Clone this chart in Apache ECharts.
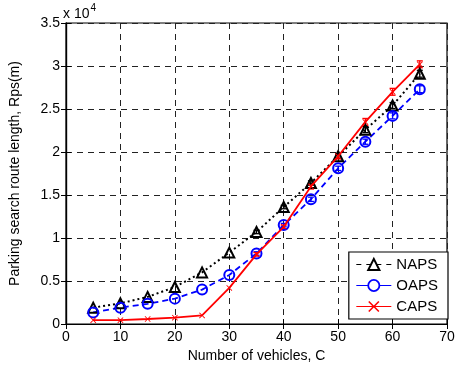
<!DOCTYPE html>
<html>
<head>
<meta charset="utf-8">
<script src="https://cdn.jsdelivr.net/npm/echarts@6/dist/echarts.min.js"></script>
<style>html,body{margin:0;padding:0;background:#fff}#c{width:459px;height:372px}</style>
</head>
<body>
<div id="c"></div>
<script>
var xVals = [5, 10, 15, 20, 25, 30, 35, 40, 45, 50, 55, 60, 65];
var napsVals = [1900, 2400, 3150, 4300, 6000, 8300, 10700, 13600, 16400, 19500, 22600, 25400, 29100];
var oapsVals = [1350, 1900, 2350, 2950, 4000, 5700, 8200, 11500, 14500, 18100, 21200, 24200, 27300];
var capsVals = [450, 450, 580, 730, 1000, 4200, 8100, 11300, 16000, 19500, 23500, 27000, 30200];
var napsErr = [0, 0, 0, 0, 0, 0, 200, 200, 250, 250, 350, 350, 400];
var oapsErr = [0, 0, 0, 0, 0, 0, 200, 200, 250, 250, 300, 350, 400];
var capsErr = [0, 0, 0, 0, 0, 0, 200, 200, 300, 300, 400, 400, 400];
var yTicks = ['0', '0.5', '1', '1.5', '2', '2.5', '3', '3.5'];

var FONT = 'Liberation Sans';
function pairs(v) { return xVals.map(function (x, i) { return [x, v[i]]; }); }
function errData(v, e) { return xVals.map(function (x, i) { return [x, v[i] - e[i], v[i] + e[i]]; }); }
function errSeries(name, v, e, color) {
  return {
    type: 'custom', name: name + 'err', silent: true, z: 4,
    data: errData(v, e),
    renderItem: function (params, api) {
      var lo = api.coord([api.value(0), api.value(1)]);
      var hi = api.coord([api.value(0), api.value(2)]);
      if (Math.abs(lo[1] - hi[1]) < 1) return null;
      var w = 3;
      var st = { stroke: color, lineWidth: 1.3 };
      return { type: 'group', children: [
        { type: 'line', shape: { x1: lo[0], y1: lo[1], x2: hi[0], y2: hi[1] }, style: st },
        { type: 'line', shape: { x1: lo[0] - w, y1: lo[1], x2: lo[0] + w, y2: lo[1] }, style: st },
        { type: 'line', shape: { x1: hi[0] - w, y1: hi[1], x2: hi[0] + w, y2: hi[1] }, style: st }
      ]};
    }
  };
}
var xMark = 'path://M0,1L1,0L5,4L9,0L10,1L6,5L10,9L9,10L5,6L1,10L0,9L4,5Z';
var gridLine = { show: true, lineStyle: { color: '#222', type: [6, 5], width: 1 } };
var chart = echarts.init(document.getElementById('c'), null, { renderer: 'canvas' });
chart.setOption({
  animation: false,
  backgroundColor: '#fff',
  textStyle: { fontFamily: FONT },
  grid: { left: 64, right: 12, top: 23, bottom: 48, show: true, borderColor: '#000', borderWidth: 1.2 },
  xAxis: [{
    type: 'value', min: 0, max: 70, interval: 10,
    name: 'Number of vehicles, C', nameLocation: 'middle', nameGap: 23,
    nameTextStyle: { fontFamily: FONT, fontSize: 14, color: '#000' },
    axisLine: { show: true, onZero: false, lineStyle: { color: '#000', width: 1.2 } },
    axisTick: { show: true, inside: true, length: 5, lineStyle: { color: '#000' } },
    axisLabel: { fontFamily: FONT, fontSize: 14, color: '#000', margin: 6 },
    splitLine: gridLine
  }, {
    type: 'value', min: 0, max: 70, interval: 10, position: 'top',
    axisLine: { show: true, lineStyle: { color: '#000', width: 1.2 } },
    axisTick: { show: true, inside: true, length: 5, lineStyle: { color: '#000' } },
    axisLabel: { show: false }, splitLine: { show: false }
  }],
  yAxis: [{
    type: 'value', min: 0, max: 35000, interval: 5000,
    name: 'Parking search route length, Rps(m)', nameLocation: 'middle', nameGap: 44,
    nameTextStyle: { fontFamily: FONT, fontSize: 14, color: '#000' },
    axisLine: { show: true, lineStyle: { color: '#000', width: 1.2 } },
    axisTick: { show: true, inside: true, length: 5, lineStyle: { color: '#000' } },
    axisLabel: { fontFamily: FONT, fontSize: 14, color: '#000', margin: 6,
      formatter: function (v) { return yTicks[Math.round(v / 5000)]; } },
    splitLine: gridLine
  }, {
    type: 'value', min: 0, max: 35000, interval: 5000, position: 'right',
    axisLine: { show: true, lineStyle: { color: '#000', width: 1.2 } },
    axisTick: { show: true, inside: true, length: 5, lineStyle: { color: '#000' } },
    axisLabel: { show: false }, splitLine: { show: false }
  }],
  graphic: [{
    type: 'text', left: 63, top: 3, z: 10,
    style: {
      text: '{a|x 10}{b|4}',
      rich: {
        a: { fontFamily: FONT, fontSize: 14, fill: '#000', verticalAlign: 'bottom', lineHeight: 18 },
        b: { fontFamily: FONT, fontSize: 10, fill: '#000', verticalAlign: 'top', lineHeight: 18, padding: [0, 0, 8, 1] }
      }
    }
  }],
  legend: {
    orient: 'vertical', right: 11, bottom: 53,
    backgroundColor: '#fff', borderColor: '#000', borderWidth: 1.2,
    padding: [5, 10, 5, 7], itemGap: 6, itemWidth: 35, itemHeight: 14,
    textStyle: { fontFamily: FONT, fontSize: 15, color: '#000' },
    data: [
      { name: 'NAPS', lineStyle: { type: [5, 5], color: '#000', width: 1 }, itemStyle: { color: '#fff', borderColor: '#000', borderWidth: 2 } },
      { name: 'OAPS', lineStyle: { type: 'solid', color: '#0000ff', width: 1 }, itemStyle: { color: '#fff', borderColor: '#0000ff', borderWidth: 1.8 } },
      { name: 'CAPS', lineStyle: { type: 'solid', color: '#ff0000', width: 1 }, itemStyle: { color: '#ff0000' } }
    ]
  },
  series: [
    errSeries('NAPS', napsVals, napsErr, '#000'),
    errSeries('OAPS', oapsVals, oapsErr, '#0000ff'),
    errSeries('CAPS', capsVals, capsErr, '#ff0000'),
    {
      name: 'NAPS', type: 'line', data: pairs(napsVals), z: 5,
      symbol: 'triangle', symbolSize: 10,
      lineStyle: { color: '#000', width: 2, type: [2, 3] },
      itemStyle: { color: 'rgba(255,255,255,0)', borderColor: '#000', borderWidth: 2 }
    },
    {
      name: 'OAPS', type: 'line', data: pairs(oapsVals), z: 5,
      symbol: 'circle', symbolSize: 10,
      lineStyle: { color: '#0000ff', width: 1.8, type: [6, 4] },
      itemStyle: { color: 'rgba(255,255,255,0)', borderColor: '#0000ff', borderWidth: 2 }
    },
    {
      name: 'CAPS', type: 'line', data: pairs(capsVals), z: 6,
      symbol: xMark, symbolSize: 6,
      lineStyle: { color: '#ff0000', width: 1.8, type: 'solid' },
      itemStyle: { color: '#ff0000' }
    }
  ]
});
</script>
</body>
</html>
